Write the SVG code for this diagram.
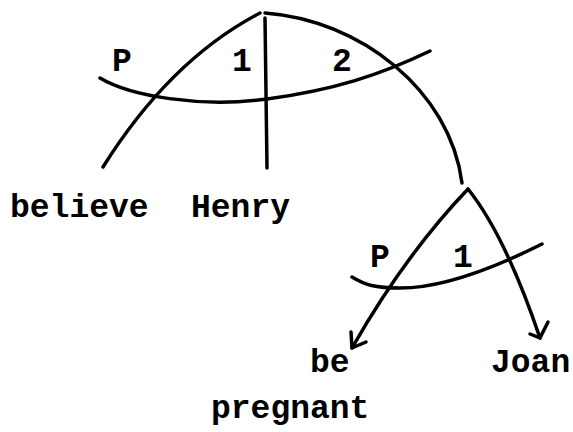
<svg xmlns="http://www.w3.org/2000/svg" width="573" height="432" viewBox="0 0 573 432">
<style>
.ln{fill:none;stroke:#000;stroke-width:3.5;stroke-linecap:round;stroke-linejoin:round}
.t{font-family:"Liberation Mono","Courier New",monospace;font-weight:bold;font-size:33px;fill:#000}
.lbl{text-anchor:middle}
</style>
<rect width="573" height="432" fill="#fff"/>
<g id="connectors">
<path class="ln" d="M103,167 Q170,60 260,13"/>
<path class="ln" d="M265,18 L267,168"/>
<path class="ln" d="M265,13 C360,20 450,90 462,183"/>
<path class="ln" d="M100,78 C130,96 200,108 267,99 S380,75 430,51"/>
<path class="ln" d="M468,189 Q405,255 352,348"/>
<path class="ln" d="M351,332 L352,348 L366,342"/>
<path class="ln" d="M468,189 Q505,235 540,338"/>
<path class="ln" d="M548,322 L540,338 L530,334"/>
<path class="ln" d="M352,277 C365,285 375,288 400,288 C440,288 490,270 542,244"/>
</g>
<g id="labels">
<text class="t lbl" x="122" y="71">P</text>
<text class="t lbl" x="242" y="71">1</text>
<text class="t lbl" x="342" y="71">2</text>
<text class="t lbl" x="380" y="267">P</text>
<text class="t lbl" x="463" y="267">1</text>
</g>
<g id="node-believe"><text class="t" x="10" y="217">believe</text></g>
<g id="node-henry"><text class="t" x="191" y="217">Henry</text></g>
<g id="node-be-pregnant"><text class="t" x="310" y="372">be</text><text class="t" x="211" y="418">pregnant</text></g>
<g id="node-joan"><text class="t" x="491" y="372">Joan</text></g>
</svg>
